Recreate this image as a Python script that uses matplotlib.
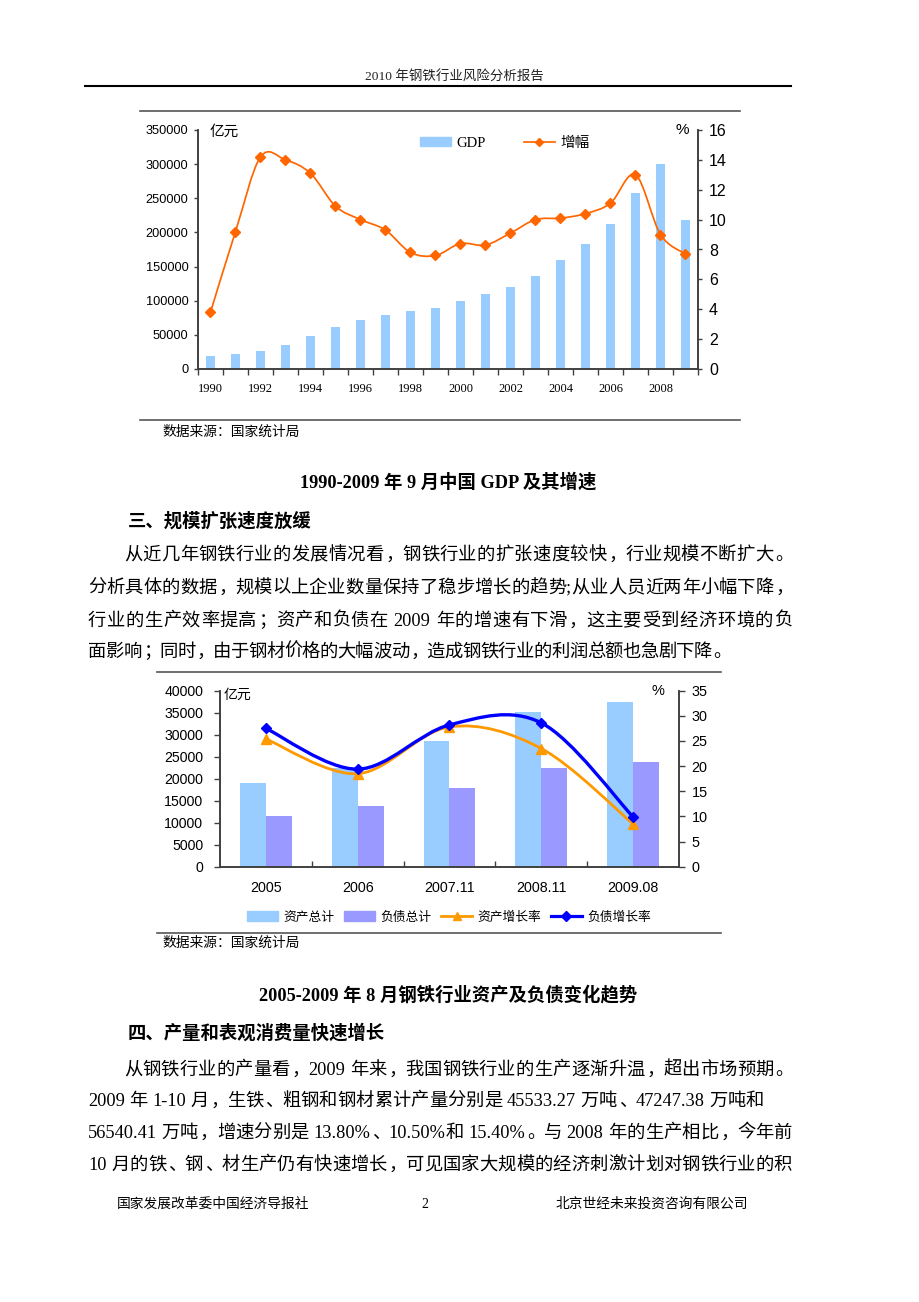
import re
import numpy as np
import matplotlib
matplotlib.use('Agg')
import matplotlib.pyplot as plt
from matplotlib.path import Path
from matplotlib.patches import PathPatch, Patch
from matplotlib.lines import Line2D

W, H = 920, 1302
CJK = 'Noto Sans CJK SC'
SERIF = ['Liberation Serif', CJK]
SANS = ['Liberation Sans', CJK]
plt.rcParams['font.family'] = SANS
plt.rcParams['axes.unicode_minus'] = False

# ---------------- data: chart 1 (GDP) ----------------
years = [str(y) for y in range(1990, 2010)]
gdp = [18668, 21781, 26923, 35333, 48198, 60794, 71177, 78973, 84402, 89677,
       99215, 109655, 120333, 135823, 159878, 183217, 211924, 257306, 300670, 217817]
gdp_growth = [3.8, 9.2, 14.2, 14.0, 13.1, 10.9, 10.0, 9.3, 7.8, 7.6,
              8.4, 8.3, 9.1, 10.0, 10.1, 10.4, 11.1, 13.0, 9.0, 7.7]

# ---------------- data: chart 2 (assets / liabilities) ----------------
periods = ['2005', '2006', '2007.11', '2008.11', '2009.08']
assets = [19000, 22500, 28600, 35100, 37400]
liabilities = [11500, 13800, 17800, 22500, 23800]
assets_growth = [25.4, 18.5, 27.8, 23.5, 8.5]
liab_growth = [27.5, 19.4, 28.2, 28.6, 9.9]

# ---------------- page text ----------------
header = '2010 年钢铁行业风险分析报告'
source = '数据来源：国家统计局'
caption1 = '1990-2009 年 9 月中国 GDP 及其增速'
caption2 = '2005-2009 年 8 月钢铁行业资产及负债变化趋势'
heading1 = '三、规模扩张速度放缓'
heading2 = '四、产量和表观消费量快速增长'
para1 = ['从近几年钢铁行业的发展情况看，钢铁行业的扩张速度较快，行业规模不断扩大。',
         '分析具体的数据，规模以上企业数量保持了稳步增长的趋势;从业人员近两年小幅下降，',
         '行业的生产效率提高；资产和负债在 2009 年的增速有下滑，这主要受到经济环境的负',
         '面影响；同时，由于钢材价格的大幅波动，造成钢铁行业的利润总额也急剧下降。']
para2 = ['从钢铁行业的产量看，2009 年来，我国钢铁行业的生产逐渐升温，超出市场预期。',
         '2009 年 1-10 月，生铁、粗钢和钢材累计产量分别是 45533.27 万吨、47247.38 万吨和',
         '56540.41 万吨，增速分别是 13.80%、10.50%和 15.40%。与 2008 年的生产相比，今年前',
         '10 月的铁、钢、材生产仍有快速增长，可见国家大规模的经济刺激计划对钢铁行业的积']
footer_left = '国家发展改革委中国经济导报社'
footer_mid = '2'
footer_right = '北京世经未来投资咨询有限公司'

PUNCT = '，。；、：'

fig = plt.figure(figsize=(W / 100, H / 100), dpi=100)
renderer = fig.canvas.get_renderer()


def fx(x):
    return x / W


def fy(y):
    return 1 - y / H


def hline(x0, x1, y, color='#333333', lw=1.0):
    fig.add_artist(Line2D([fx(x0), fx(x1)], [fy(y), fy(y)], transform=fig.transFigure,
                          color=color, lw=lw))


def text_line(y, s, x0, x1=None, size=13.2, weight='normal'):
    # lay a line out glyph by glyph so it can be justified like the page
    em = size * 100 / 72
    items = []
    for t in re.findall(r'[\x21-\x7e]+| +|.', s):
        if t[0] == ' ':
            items.append((t, 0.25 * em * len(t), None))
        elif ord(t[0]) < 128:
            a = fig.text(0, 0, t, fontsize=size, family=SERIF, weight=weight, va='baseline')
            items.append((t, a.get_window_extent(renderer).width, a))
        else:
            a = fig.text(0, 0, t, fontsize=size, family=SERIF, weight=weight, va='baseline',
                         ha='left' if t in PUNCT else 'center')
            items.append((t, em, a))
    total = sum(w for _, w, _ in items)
    gap = 0 if x1 is None else (x1 - x0 - total) / max(len(items) - 1, 1)
    x = x0
    base = fy(y + 0.36 * em)
    for t, w, a in items:
        if a is not None:
            if t in PUNCT:
                px = x + 0.08 * em
            elif ord(t[0]) < 128:
                px = x
            else:
                px = x + w / 2
            a.set_position((fx(px), base))
        x += w + gap


def smooth_path(x, y):
    # excel style smoothed line through the points
    x = np.asarray(x, float)
    y = np.asarray(y, float)
    n = len(x)
    verts = [(x[0], y[0])]
    codes = [Path.MOVETO]
    for i in range(n - 1):
        xa, ya = (x[i - 1], y[i - 1]) if i > 0 else (x[i], y[i])
        xd, yd = (x[i + 2], y[i + 2]) if i + 2 < n else (x[i + 1], y[i + 1])
        c1 = (x[i] + (x[i + 1] - xa) / 6, y[i] + (y[i + 1] - ya) / 6)
        c2 = (x[i + 1] - (xd - x[i]) / 6, y[i + 1] - (yd - y[i]) / 6)
        verts += [c1, c2, (x[i + 1], y[i + 1])]
        codes += [Path.CURVE4] * 3
    return Path(verts, codes)


def style_axes(ax, ax2, spine_color='#404040'):
    ax.spines['top'].set_visible(False)
    ax2.spines['top'].set_visible(False)
    for a in (ax, ax2):
        for s in a.spines.values():
            s.set_color(spine_color)
            s.set_linewidth(1.2)
    ax.patch.set_alpha(0)


# ---------------- header ----------------
fig.text(fx(454), fy(76), header, fontsize=9.7, family=SERIF, ha='center', va='center', color='#222222')
hline(85, 791, 86, color='black', lw=1.5)

# ---------------- chart 1 ----------------
hline(140, 740, 111, color='#555555', lw=1.2)
hline(140, 740, 420, color='#555555', lw=1.2)

ax = fig.add_axes([fx(198), fy(369), 500 / W, 239 / H])
x1 = np.arange(len(years))
bars1 = ax.bar(x1, gdp, width=0.36, color='#99CCFF', zorder=2)
ax.set_xlim(-0.5, len(years) - 0.5)
ax.set_ylim(0, 350000)
ax.set_yticks(np.arange(0, 350001, 50000))
ax.set_xticks(x1[::2])
ax.set_xticklabels(years[::2], family=SERIF, fontsize=9)
ax.set_xticks(np.arange(-0.5, len(years)), minor=True)
ax.tick_params(axis='x', which='major', length=0, pad=10)
ax.tick_params(axis='x', which='minor', length=4, width=1, direction='out', color='#404040')
ax.tick_params(axis='y', length=3, width=1, direction='out', labelsize=9.2, pad=4, color='#404040')

ax2 = ax.twinx()
ax2.set_ylim(0, 16)
ax2.set_yticks(np.arange(0, 17, 2))
ax2.tick_params(axis='y', length=3, width=1, direction='out', labelsize=11.5, pad=5, color='#404040')
ax2.add_patch(PathPatch(smooth_path(x1, gdp_growth), fill=False, edgecolor='#FF6600', lw=1.25, zorder=3))
ax2.plot(x1, gdp_growth, linestyle='none', marker='D', ms=5, color='#FF6600', zorder=4)
style_axes(ax, ax2)

fig.text(fx(210), fy(132), '亿元', fontsize=10.5, family=CJK, va='center', ha='left')
fig.text(fx(682), fy(130), '%', fontsize=11, family=SANS, va='center', ha='center')

leg1 = fig.legend([Patch(color='#99CCFF'),
                   Line2D([], [], color='#FF6600', marker='D', ms=4.5, lw=1.25)],
                  ['GDP', '增幅'], loc='center', bbox_to_anchor=(fx(505), fy(143)), ncol=2,
                  frameon=False, prop={'family': SERIF, 'size': 10.5}, handlelength=2.1,
                  handleheight=0.5, handletextpad=0.4, columnspacing=2.6)

fig.text(fx(163), fy(432), source, fontsize=9.9, family=CJK, va='center', ha='left')

# ---------------- text block 1 ----------------
fig.text(fx(448), fy(482), caption1, fontsize=13.2, family=SERIF, weight='bold', ha='center', va='center')
fig.text(fx(128), fy(521), heading1, fontsize=13.2, family=CJK, weight='bold', ha='left', va='center')
ys1 = [553, 586, 619, 650]
ends1 = [792, 792, 792, 730]
for i, s in enumerate(para1):
    x_start = 124 if i == 0 else 88
    text_line(ys1[i], s, x_start, ends1[i])

# ---------------- chart 2 ----------------
hline(157, 721, 672, color='#555555', lw=1.2)
hline(157, 721, 933, color='#555555', lw=1.2)

bx = fig.add_axes([fx(220), fy(866.7), 459 / W, 176 / H])
x2 = np.arange(len(periods))
bw = 0.283
bx.bar(x2 - bw / 2, assets, width=bw, color='#99CCFF', zorder=2, label='资产总计')
bx.bar(x2 + bw / 2, liabilities, width=bw, color='#9999FF', zorder=2, label='负债总计')
bx.set_xlim(-0.5, len(periods) - 0.5)
bx.set_ylim(0, 40000)
bx.set_yticks(np.arange(0, 40001, 5000))
bx.set_xticks(x2)
bx.set_xticklabels(periods, fontsize=10.3)
bx.set_xticks(np.arange(0.5, len(periods) - 1), minor=True)
bx.tick_params(axis='x', which='major', length=0, pad=10)
bx.tick_params(axis='x', which='minor', length=4, width=1, direction='in', color='#404040')
bx.tick_params(axis='y', length=4, width=1, direction='out', labelsize=10.2, pad=8, color='#404040')

bx2 = bx.twinx()
bx2.set_ylim(0, 35)
bx2.set_yticks(np.arange(0, 36, 5))
bx2.tick_params(axis='y', length=4, width=1, direction='out', labelsize=10.4, pad=5, color='#404040')
bx2.add_patch(PathPatch(smooth_path(x2, assets_growth), fill=False, edgecolor='#FF9900', lw=2.0, zorder=3))
bx2.plot(x2, assets_growth, linestyle='none', marker='^', ms=7, color='#FF9900', zorder=4)
bx2.add_patch(PathPatch(smooth_path(x2, liab_growth), fill=False, edgecolor='#0000FF', lw=2.4, zorder=5))
bx2.plot(x2, liab_growth, linestyle='none', marker='D', ms=5.5, color='#0000FF', zorder=6)
style_axes(bx, bx2)

fig.text(fx(224), fy(695), '亿元', fontsize=10, family=CJK, va='center', ha='left')
fig.text(fx(658), fy(691), '%', fontsize=10.5, family=SANS, va='center', ha='center')

fig.legend([Patch(color='#99CCFF'), Patch(color='#9999FF'),
            Line2D([], [], color='#FF9900', marker='^', ms=6, lw=2),
            Line2D([], [], color='#0000FF', marker='D', ms=5, lw=2.3)],
           ['资产总计', '负债总计', '资产增长率', '负债增长率'], loc='center',
           bbox_to_anchor=(fx(449), fy(917)), ncol=4, frameon=False,
           prop={'family': CJK, 'size': 9.2}, handlelength=2.4, handleheight=0.8,
           handletextpad=0.4, columnspacing=0.8)

fig.text(fx(163), fy(943), source, fontsize=9.9, family=CJK, va='center', ha='left')

# ---------------- text block 2 ----------------
fig.text(fx(448), fy(995), caption2, fontsize=13.2, family=SERIF, weight='bold', ha='center', va='center')
fig.text(fx(128), fy(1033), heading2, fontsize=13.2, family=CJK, weight='bold', ha='left', va='center')
ys2 = [1068, 1099, 1131, 1163]
ends2 = [792, None, 792, 792]
for i, s in enumerate(para2):
    x_start = 124 if i == 0 else 88
    text_line(ys2[i], s, x_start, ends2[i])

# ---------------- footer ----------------
fig.text(fx(117), fy(1204), footer_left, fontsize=9.9, family=CJK, ha='left', va='center')
fig.text(fx(425), fy(1204), footer_mid, fontsize=9.9, family=SERIF, ha='center', va='center')
fig.text(fx(748), fy(1204), footer_right, fontsize=9.9, family=CJK, ha='right', va='center')

fig.savefig('out.png', dpi=100, facecolor='white')
